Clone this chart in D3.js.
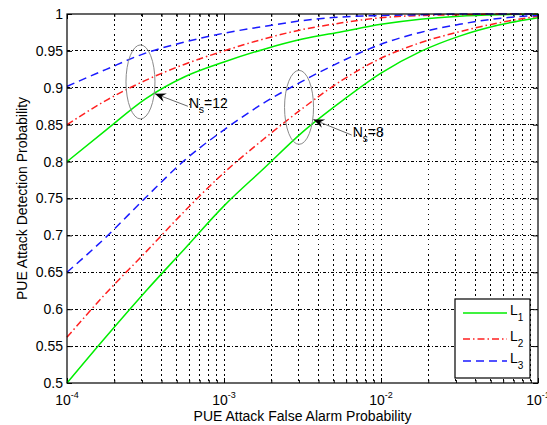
<!DOCTYPE html>
<html>
<head>
<meta charset="utf-8">
<script src="https://cdn.jsdelivr.net/npm/d3@7"></script>
<style>
  body { margin: 0; background: #fff; }
  svg text { font-family: "Liberation Sans", Arial, sans-serif; fill: #000; }
</style>
</head>
<body>
<div class="graph"></div>
<script>

// false alarm probability, as powers of ten (x axis is log)
var pfaExp = [-4, -3.75, -3.5, -3.25, -3, -2.75, -2.5, -2.25, -2, -1.75, -1.5, -1.25, -1];

// detection probability, Ns = 8
var l1Ns8 = [0.500, 0.563, 0.624, 0.682, 0.740, 0.790, 0.840, 0.882, 0.920, 0.949, 0.970, 0.985, 0.995];
var l2Ns8 = [0.562, 0.622, 0.677, 0.733, 0.785, 0.830, 0.872, 0.910, 0.940, 0.961, 0.976, 0.988, 0.997];
var l3Ns8 = [0.650, 0.698, 0.751, 0.802, 0.843, 0.879, 0.909, 0.936, 0.959, 0.975, 0.986, 0.994, 0.998];

// Ns = 12
var l1Ns12 = [0.800, 0.843, 0.885, 0.915, 0.935, 0.952, 0.966, 0.976, 0.986, 0.993, 0.997, 0.999, 1.000];
var l2Ns12 = [0.850, 0.883, 0.910, 0.932, 0.950, 0.966, 0.979, 0.988, 0.995, 0.998, 0.999, 1.000, 1.000];
var l3Ns12 = [0.902, 0.925, 0.947, 0.962, 0.974, 0.983, 0.991, 0.996, 0.998, 0.999, 1.000, 1.000, 1.000];

var seriesNames = ["L1", "L2", "L3"];
var yTicks = [0.5, 0.55, 0.6, 0.65, 0.7, 0.75, 0.8, 0.85, 0.9, 0.95, 1];
var xDecades = [-4, -3, -2, -1];

// Ns ellipse + arrow annotations (data coords: [exponent, pd])
var annotations = [
  {ns: "12", center: [-3.532, 0.908], tip: [-3.44, 0.892], tail: [-3.23, 0.875]},
  {ns: "8", center: [-2.522, 0.8735], tip: [-2.431, 0.857], tail: [-2.187, 0.836]}
];


var margin = {top: 14, right: 9, bottom: 42, left: 67},
    fullW = 547, fullH = 425,
    width = fullW - margin.left - margin.right,
    height = fullH - margin.top - margin.bottom;

var x = d3.scaleLog().domain([1e-4, 1e-1]).range([0, width]);
var y = d3.scaleLinear().domain([0.5, 1]).range([height, 0]);

var styles = [
  {color: "#00ee00", dash: null},
  {color: "#ff2020", dash: "7,3,1.5,3"},
  {color: "#1a1aff", dash: "8,5"}
];

var svg = d3.select("div.graph").append("svg")
    .attr("width", fullW)
    .attr("height", fullH);

var g = svg.append("g")
    .attr("transform", "translate(" + margin.left + "," + margin.top + ")");

// grid: every minor decade on x, every tick on y
var minorVals = [];
xDecades.slice(0, 3).forEach(function(e) {
  for (var m = 1; m < 10; m++) {
    minorVals.push(m * Math.pow(10, e));
  }
});

g.selectAll(".vgrid")
  .data(minorVals.filter(function(v) { return v > 1e-4; }))
  .enter().append("line")
    .attr("class", "vgrid")
    .attr("x1", function(d) { return x(d); })
    .attr("x2", function(d) { return x(d); })
    .attr("y1", 0)
    .attr("y2", height)
    .attr("stroke", "#000")
    .attr("stroke-width", 1)
    .attr("shape-rendering", "crispEdges")
    .attr("stroke-dasharray", "1.5,3.5");

g.selectAll(".hgrid")
  .data(yTicks.slice(1, -1))
  .enter().append("line")
    .attr("class", "hgrid")
    .attr("x1", 0)
    .attr("x2", width)
    .attr("y1", function(d) { return y(d); })
    .attr("y2", function(d) { return y(d); })
    .attr("stroke", "#000")
    .attr("stroke-width", 1)
    .attr("shape-rendering", "crispEdges")
    .attr("stroke-dasharray", "3,2,1,2");

// ticks pointing inward on all four sides
var majorVals = xDecades.map(function(e) { return Math.pow(10, e); });

function tidy(sel) {
  sel.select(".domain").remove();
  sel.selectAll("line").attr("stroke", "#000");
}

g.append("g").attr("transform", "translate(0," + height + ")")
  .call(d3.axisBottom(x).tickValues(minorVals).tickSize(-3).tickFormat(""))
  .call(tidy);
g.append("g").attr("transform", "translate(0," + height + ")")
  .call(d3.axisBottom(x).tickValues(majorVals).tickSize(-5).tickFormat(""))
  .call(tidy);
g.append("g")
  .call(d3.axisTop(x).tickValues(minorVals).tickSize(-3).tickFormat(""))
  .call(tidy);
g.append("g")
  .call(d3.axisTop(x).tickValues(majorVals).tickSize(-5).tickFormat(""))
  .call(tidy);

var yAxis = g.append("g")
  .call(d3.axisLeft(y).tickValues(yTicks).tickSize(-5).tickPadding(4).tickFormat(d3.format("~g")))
  .call(tidy);
yAxis.selectAll("text")
  .style("font-family", "'Liberation Sans', Arial, sans-serif")
  .style("font-size", "14px");

g.append("g").attr("transform", "translate(" + width + ",0)")
  .call(d3.axisRight(y).tickValues(yTicks).tickSize(-5).tickFormat(""))
  .call(tidy);

// x tick labels 10^e
var xLab = g.selectAll(".xlab")
  .data(xDecades)
  .enter().append("text")
    .attr("class", "xlab")
    .attr("x", function(d) { return x(Math.pow(10, d)); })
    .attr("y", height + 22)
    .attr("text-anchor", "middle")
    .style("font-size", "14px");
xLab.append("tspan").text("10");
xLab.append("tspan")
    .attr("dy", -7)
    .style("font-size", "9px")
    .text(function(d) { return d; });

// curves
var line = d3.line()
    .x(function(d) { return x(Math.pow(10, d[0])); })
    .y(function(d) { return y(d[1]); })
    .curve(d3.curveMonotoneX);

var curves = [
  [l1Ns8, 0], [l2Ns8, 1], [l3Ns8, 2],
  [l1Ns12, 0], [l2Ns12, 1], [l3Ns12, 2]
];

curves.forEach(function(c) {
  var pts = pfaExp.map(function(e, i) { return [e, c[0][i]]; });
  g.append("path")
    .datum(pts)
    .attr("d", line)
    .attr("fill", "none")
    .attr("stroke", styles[c[1]].color)
    .attr("stroke-width", 1.5)
    .attr("stroke-dasharray", styles[c[1]].dash);
});

// plot box
g.append("rect")
  .attr("width", width)
  .attr("height", height)
  .attr("fill", "none")
  .attr("stroke", "#000")
  .attr("stroke-width", 1.2);

// annotations
annotations.forEach(function(a) {
  var cx = x(Math.pow(10, a.center[0])), cy = y(a.center[1]);
  var tx = x(Math.pow(10, a.tip[0])), ty = y(a.tip[1]);
  var sx = x(Math.pow(10, a.tail[0])), sy = y(a.tail[1]);

  g.append("ellipse")
    .attr("cx", cx).attr("cy", cy)
    .attr("rx", 14.5).attr("ry", 37)
    .attr("fill", "none")
    .attr("stroke", "#8a8a8a")
    .attr("stroke-width", 1);

  g.append("line")
    .attr("x1", sx).attr("y1", sy)
    .attr("x2", tx).attr("y2", ty)
    .attr("stroke", "#6a6a6a")
    .attr("stroke-width", 1);

  // arrow head
  var ang = Math.atan2(ty - sy, tx - sx), len = 11, half = 4.5;
  var bx = tx - len * Math.cos(ang), by = ty - len * Math.sin(ang);
  var head = [
    [tx, ty],
    [bx + half * Math.sin(ang), by - half * Math.cos(ang)],
    [bx + 0.35 * len * Math.cos(ang), by + 0.35 * len * Math.sin(ang)],
    [bx - half * Math.sin(ang), by + half * Math.cos(ang)]
  ];
  g.append("path")
    .attr("d", "M" + head.join("L") + "Z")
    .attr("fill", "#000");

  var t = g.append("text")
    .attr("x", sx + 1)
    .attr("y", sy + 2)
    .style("font-size", "14px");
  t.append("tspan").text("N");
  t.append("tspan").attr("dy", 5).style("font-size", "10px").text("s");
  t.append("tspan").attr("dy", -5).text("=" + a.ns);
});

// legend
var leg = g.append("g")
  .attr("transform", "translate(" + (width - 83) + "," + (height - 84) + ")");

leg.append("rect")
  .attr("width", 75)
  .attr("height", 79)
  .attr("fill", "#fff")
  .attr("stroke", "#000")
  .attr("stroke-width", 1.2);

seriesNames.forEach(function(name, i) {
  var ly = [14, 40, 62][i];
  leg.append("line")
    .attr("x1", 8).attr("x2", 52)
    .attr("y1", ly).attr("y2", ly)
    .attr("stroke", styles[i].color)
    .attr("stroke-width", 1.5)
    .attr("stroke-dasharray", styles[i].dash);
  var lt = leg.append("text")
    .attr("x", 55)
    .attr("y", ly + 2)
    .style("font-size", "14px");
  lt.append("tspan").text(name.charAt(0));
  lt.append("tspan").attr("dy", 6).style("font-size", "10px").text(name.slice(1));
});

// axis labels
svg.append("text")
  .attr("x", margin.left + width / 2)
  .attr("y", 421)
  .attr("text-anchor", "middle")
  .style("font-size", "14px")
  .text("PUE Attack False Alarm Probability");

svg.append("text")
  .attr("transform", "translate(27," + (margin.top + height / 2) + ") rotate(-90)")
  .attr("text-anchor", "middle")
  .style("font-size", "14px")
  .text("PUE Attack Detection Probability");

</script>
</body>
</html>
